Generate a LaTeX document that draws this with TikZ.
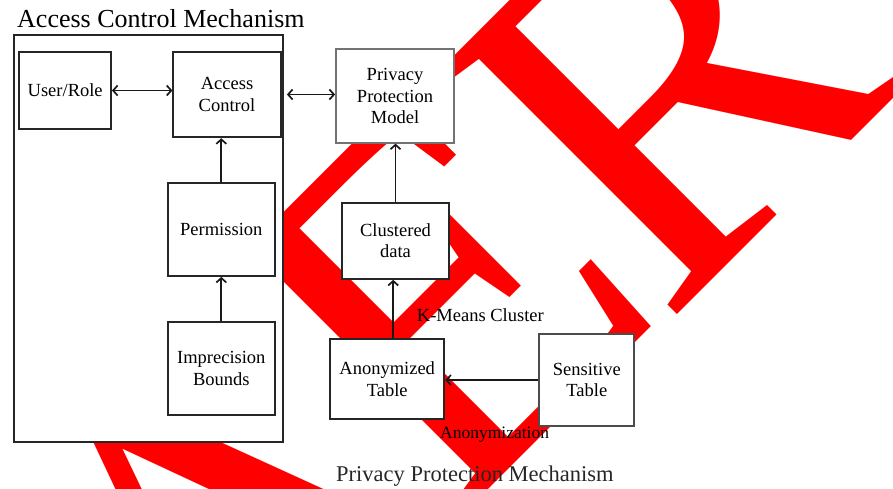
\documentclass[tikz,border=0pt]{standalone}
\usepackage{fontspec}
\setmainfont{Liberation Serif}
\usepackage{tikz}
\usetikzlibrary{arrows.meta}

\tikzset{
  >={Straight Barb[length=4.5pt,width=10pt]},
  blk/.style={draw=black!85, line width=1.8pt, fill=white, align=center, inner sep=0pt,
    font=\fontsize{18.5}{21.5}\selectfont},
  lbl/.style={anchor=base west, inner sep=0pt},
  lnk/.style={line width=1.7pt, black!90},
  wmk/.style={lbl, rotate=45, text=red, font=\fontsize{520}{520}\selectfont},
}

\begin{document}
\begin{tikzpicture}[x=1pt, y=-1pt]
\useasboundingbox (0,0) rectangle (893,488);

% watermark behind everything
\node[wmk] (wmA) at (218,788) {A};
\node[wmk] (wmE) at (448,530.1) {E};
\node[wmk] (wmR) at (664,328) {R};

% access control side
\node[blk, minimum width=269pt, minimum height=407pt] (acm) at (148.5,238.5) {};
\node[lbl, font=\fontsize{26}{26}\selectfont] (acmtitle) at (17,27) {Access Control Mechanism};

\node[blk, minimum width=91.7pt, minimum height=77.6pt] (user) at (65.2,90.5) {User/Role};
\node[blk, minimum width=107.4pt, minimum height=85.6pt] (access) at (227,94.5) {Access\\Control};
\node[blk, minimum width=107.3pt, minimum height=93.3pt] (perm) at (221.3,229.3) {Permission};
\node[blk, minimum width=107.3pt, minimum height=92.7pt] (imp) at (221.3,368.7) {Imprecision\\Bounds};

% privacy protection side
\node[blk, draw=black!55, minimum width=118pt, minimum height=93.4pt] (ppm) at (395,96) {Privacy\\Protection\\Model};
\node[blk, minimum width=107.6pt, minimum height=76.3pt] (clus) at (395.5,240.8) {Clustered\\data};
\node[blk, minimum width=114.3pt, minimum height=79.7pt] (anon) at (387.2,379.2) {Anonymized\\Table};
\node[blk, draw=black!70, minimum width=95pt, minimum height=92pt] (sens) at (586.8,380) {Sensitive\\Table};

\draw[lnk,<->] (user.east) -- (user.east -| access.west);
\draw[lnk,<->,shorten <=3pt] (access.east -| acm.east) -- (access.east -| ppm.west);
\draw[lnk,->] (perm.north) -- (perm.north |- access.south);
\draw[lnk,->] (imp.north) -- (perm.south);
\draw[lnk,->] (clus.north) -- (clus.north |- ppm.south);
\draw[lnk,->] ([xshift=6pt]anon.north) -- ([xshift=6pt]anon.north |- clus.south);
\draw[lnk,->] (sens.west) -- (sens.west -| anon.east);

\node[lbl, font=\fontsize{18.5}{18.5}\selectfont] (kmeans) at (416.7,321) {K-Means Cluster};
\node[lbl, font=\fontsize{17.5}{17.5}\selectfont] (anonym) at (440,438) {Anonymization};
\node[lbl, text=black!85, font=\fontsize{22.5}{22.5}\selectfont] (ppmech) at (336,481.7) {Privacy Protection Mechanism};

\end{tikzpicture}
\end{document}
